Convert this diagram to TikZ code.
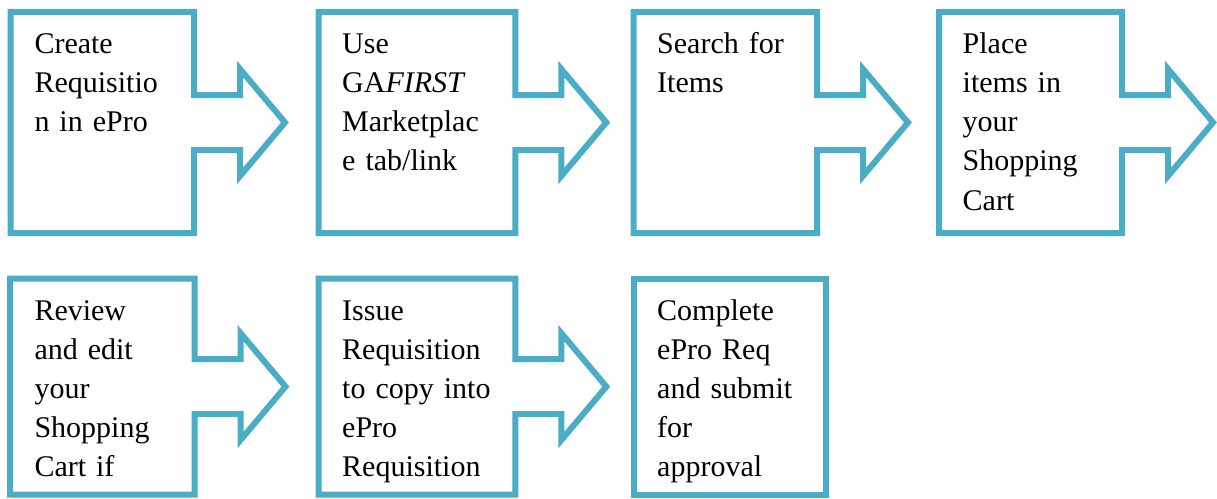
\documentclass[tikz,border=0pt]{standalone}
\usepackage{fontspec}
\setmainfont{Liberation Serif}
\usetikzlibrary{calc}
\definecolor{eproblue}{RGB}{75,172,198}
\tikzset{ stepline/.style={draw=eproblue, line width=6pt, line join=miter},
          steptext/.style={anchor=base west, text width=185pt, align=left,
             inner sep=0pt, font=\fontsize{30}{39.2}\selectfont}}
\newcommand{\shafthalf}{27.5}
\newcommand{\headhalf}{53.5}

\begin{document}
\begin{tikzpicture}[x=1pt,y=-1pt]
\useasboundingbox[fill=white] (0,0) rectangle (1217,498);

\foreach \l/\r/\t/\b in {10.5/194/12/233, 318.7/515.3/12/233,
    633.7/817/12/233, 939/1122/12/233,
    10.2/194.5/278.7/494.5, 318.7/515.3/278.7/494.5} %boxes with arrow
  \draw[stepline] (\l,\t) -- (\r,\t)
    -- (\r,{(\t+\b)/2-\shafthalf}) -- ({\r+46},{(\t+\b)/2-\shafthalf})
    -- ({\r+46},{(\t+\b)/2-\headhalf}) -- ({\r+91},{(\t+\b)/2})
    -- ({\r+46},{(\t+\b)/2+\headhalf}) -- ({\r+46},{(\t+\b)/2+\shafthalf})
    -- (\r,{(\t+\b)/2+\shafthalf}) -- (\r,\b) -- (\l,\b) -- cycle;
\draw[stepline] (633.7,278.7) rectangle (825.7,494.5); %last box

\node[steptext] (create) at (34.3,53.3) {Create\\Requisitio\\n in ePro};
\node[steptext] (use) at (342,53.3) {Use\\GA\textit{FIRST}\\Marketplac\\e tab/link};
\node[steptext] (search) at (657,53.3) {Search for\\Items};
\node[steptext] (place) at (962.5,53.3) {Place\\items in\\your\\Shopping\\Cart};
\node[steptext] (review) at (34.3,320) {Review\\and edit\\your\\Shopping\\Cart if};
\node[steptext] (issue) at (342,320) {Issue\\Requisition\\to copy into\\ePro\\Requisition};
\node[steptext] (complete) at (657,320) {Complete\\ePro Req\\and submit\\for\\approval};

\end{tikzpicture}
\end{document}
